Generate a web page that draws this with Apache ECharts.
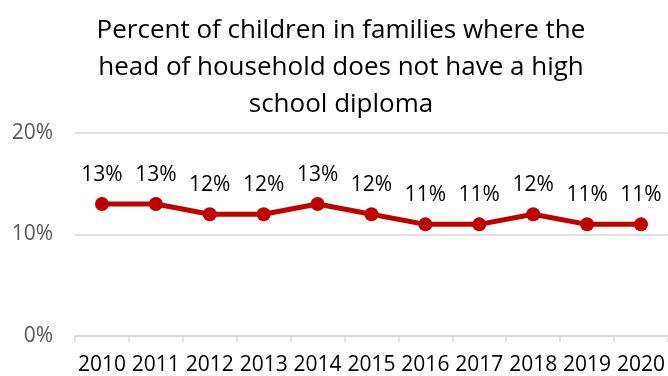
<!DOCTYPE html>
<html>
<head>
<meta charset="utf-8">
<script src="https://cdn.jsdelivr.net/npm/echarts@6/dist/echarts.min.js"></script>
<style>
  html, body { margin: 0; padding: 0; background: #fff; }
  #chart { width: 668px; height: 376px; }
</style>
</head>
<body>
<div id="chart"></div>
<script>
const years = ['2010', '2011', '2012', '2013', '2014', '2015', '2016', '2017', '2018', '2019', '2020']
const percents = [13, 13, 12, 12, 13, 12, 11, 11, 12, 11, 11]
const yTicks = [0, 10, 20]

const chart = echarts.init(document.getElementById('chart'))
chart.setOption({
  animation: false,
  textStyle: { fontFamily: 'Open Sans' },
  title: {
    text: 'Percent of children in families where the\nhead of household does not have a high\nschool diploma',
    left: 336,
    textAlign: 'center',
    top: 7,
    textStyle: {
      fontFamily: 'Open Sans',
      fontSize: 26,
      fontWeight: 'normal',
      color: '#000',
      lineHeight: 37
    }
  },
  grid: { left: 75, right: 0, top: 133, bottom: 39 },
  xAxis: {
    type: 'category',
    data: years,
    axisLine: { lineStyle: { color: '#d9d9d9', width: 1.5 } },
    axisTick: { show: true, length: 6, lineStyle: { color: '#d9d9d9', width: 1.5 } },
    axisLabel: { color: '#000', fontSize: 21, margin: 19, interval: 0, hideOverlap: false }
  },
  yAxis: {
    type: 'value',
    min: yTicks[0],
    max: yTicks[yTicks.length - 1],
    interval: 10,
    axisLine: { show: false },
    axisTick: { show: false },
    splitLine: { lineStyle: { color: '#d9d9d9', width: 1.5 } },
    axisLabel: { color: '#595959', fontSize: 21, margin: 22, formatter: '{value}%' }
  },
  series: [{
    type: 'line',
    data: percents,
    symbol: 'circle',
    symbolSize: 14,
    lineStyle: { color: '#c00000', width: 5 },
    itemStyle: { color: '#c00000' },
    label: {
      show: true,
      position: 'top',
      distance: 12,
      color: '#000',
      fontSize: 21,
      formatter: '{c}%'
    }
  }]
})
</script>
</body>
</html>
